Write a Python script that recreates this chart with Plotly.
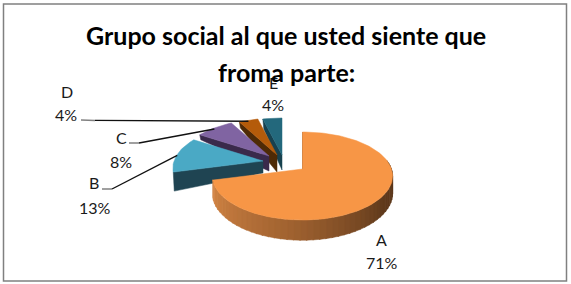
import math
import plotly.graph_objects as go

categories = ["A", "B", "C", "D", "E"]
percent = [71, 13, 8, 4, 4]
title_lines = ["Grupo social al que usted siente que", "froma parte:"]

top_colors = ["#f79646", "#4aa9c5", "#8064a2", "#b45b0a", "#23687c"]
side_colors = ["#f79646", "#1f4452", "#3a2a4b", "#4e2a06", "#17414f"]

W, H = 571, 284
RX, RY, K = 89.0, 42.9, 0.159   # projected pie radius and perspective
apex = {"A": (302.5, 169), "B": (263, 161), "C": (269, 156), "D": (277, 155), "E": (282, 155)}
apex_depth = {"B": 12, "C": 15, "D": 17, "E": 15}
outer_depth = {"B": 19, "C": 5, "D": 6, "E": 10}
rim_depth = 17


def project(cat, clock_deg, drop=0.0):
    t = math.radians(clock_deg)
    u, v = math.sin(t), -math.cos(t)
    w = 1 / (1 - K * v)
    ax, ay = apex[cat]
    return ax + RX * u * w, ay + RY * v * w + drop * w


def arc(cat, a0, a1, drop=0.0, n=None):
    n = n or max(3, int(abs(a1 - a0) / 2))
    pts = [project(cat, a0 + (a1 - a0) * i / n, drop) for i in range(n + 1)]
    return pts


def poly(fig, pts, color):
    xs = [p[0] for p in pts] + [pts[0][0]]
    ys = [p[1] for p in pts] + [pts[0][1]]
    fig.add_trace(go.Scatter(x=xs, y=ys, mode="lines", fill="toself", fillcolor=color,
                             line=dict(color=color, width=0.5), hoverinfo="skip", showlegend=False))


def lerp(c0, c1, f):
    return "rgb(%d,%d,%d)" % tuple(round(a + (b - a) * f) for a, b in zip(c0, c1))


# slice angles, clockwise from 12 o'clock
total = sum(percent)
spans = {}
acc = 0.0
for c, p in zip(categories, percent):
    spans[c] = (acc * 360 / total, (acc + p) * 360 / total)
    acc += p

fig = go.Figure()

# back slices, painted from the rear to the front
for c in ["E", "D", "C", "B"]:
    i = categories.index(c)
    a0, a1 = spans[c]
    ax, ay = apex[c]
    outer = project(c, a0)
    outer_low = (outer[0] + 1, outer[1] + outer_depth[c])
    poly(fig, [outer, (ax, ay), (ax, ay + apex_depth[c]), outer_low], side_colors[i])
    poly(fig, [(ax, ay)] + arc(c, a0, a1), top_colors[i])

# main slice: shaded rim, then top face
a0, a1 = spans["A"]
ax, ay = apex["A"]
d = rim_depth
poly(fig, [(ax, ay), project("A", a0), project("A", a0, 4), (ax + 1.2, ay + 2)], "#5a3519")
stops = [(0.0, (84, 52, 26)), (0.25, (96, 58, 28)), (0.6, (160, 98, 48)), (1.0, (214, 135, 70))]


def rim_color(f):
    for (f0, c0), (f1, c1) in zip(stops, stops[1:]):
        if f <= f1:
            return lerp(c0, c1, (f - f0) / (f1 - f0))
    return lerp(stops[-1][1], stops[-1][1], 0)


start, end = 78.0, a1
n = 50
for k in range(n):
    b0 = start + (end - start) * k / n
    b1 = start + (end - start) * (k + 1) / n + 0.6
    poly(fig, arc("A", b0, b1, 0, 2) + arc("A", b1, b0, d, 2), rim_color(k / n))
poly(fig, [(ax, ay)] + arc("A", a0, a1), top_colors[0])

# leader lines


def leader(c, frac, xs, ys):
    a0, a1 = spans[c]
    ex, ey = project(c, a0 + (a1 - a0) * frac)
    fig.add_trace(go.Scatter(x=xs[:2], y=ys[:2], mode="lines", line=dict(color="#808080", width=1.5),
                             hoverinfo="skip", showlegend=False))
    fig.add_trace(go.Scatter(x=[xs[1], ex], y=[ys[1], ey + 1], mode="lines", line=dict(color="#111111", width=1.4),
                             hoverinfo="skip", showlegend=False))


leader("B", 0.5, [102, 112], [189, 189])
leader("C", 0.5, [129, 139], [143, 143])
leader("D", 0.5, [81, 95], [120, 120.4])

annotations = []
label_pos = {"A": (381, 239, 382, 262), "B": (94, 182, 95, 207), "C": (121, 137, 121, 161),
             "D": (67, 91, 66, 114), "E": (273, 82, 273, 104)}
for c, p in zip(categories, percent):
    x0, y0, x1, y1 = label_pos[c]
    for txt, x, y in ((c, x0, y0), (f"{p}%", x1, y1)):
        annotations.append(dict(x=x, y=y, text=txt, showarrow=False, xanchor="center", yanchor="middle",
                                font=dict(family="Lato", size=16, color="#1a1a1a")))

for txt, y in zip(title_lines, (35, 72)):
    annotations.append(dict(x=286, y=y, text=f"<b>{txt}</b>", showarrow=False, xanchor="center", yanchor="middle",
                            font=dict(family="Lato", size=25, color="#000000")))

fig.update_layout(
    width=W, height=H, margin=dict(l=0, r=0, t=0, b=0),
    paper_bgcolor="white", plot_bgcolor="white", showlegend=False,
    xaxis=dict(range=[0, W], visible=False, fixedrange=True),
    yaxis=dict(range=[H, 0], visible=False, fixedrange=True),
    annotations=annotations,
    shapes=[dict(type="rect", xref="x", yref="y", x0=3.5, y0=4, x1=566.5, y1=281,
                 line=dict(color="#808080", width=1.5), layer="below")],
)
fig.write_html("out.html", config={"displayModeBar": False},
               post_script="document.body.style.margin='0';document.documentElement.style.overflow='hidden';")
